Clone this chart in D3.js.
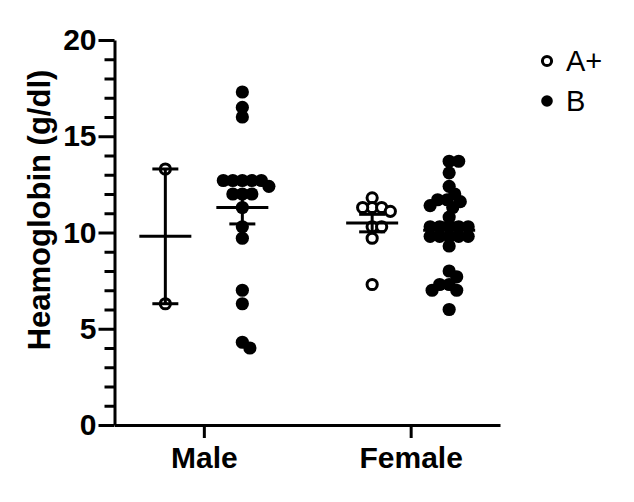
<!DOCTYPE html>
<html>
<head>
<meta charset="utf-8">
<script src="https://cdn.jsdelivr.net/npm/d3@7"></script>
<style>
  html, body { margin: 0; padding: 0; background: #fff; }
  svg { display: block; font-family: "Liberation Sans", Arial, sans-serif; }
</style>
</head>
<body>
<svg id="chart" width="634" height="502"></svg>
<script>
// ---- data ----
const categories = ["Male", "Female"];
const seriesNames = ["A+", "B"];
const maleAplus = [13.3, 6.3];
const maleB = [17.3, 16.5, 16.0, 12.7, 12.7, 12.7, 12.7, 12.7, 12.4, 12.0, 12.0, 12.0, 11.3, 10.3, 9.7, 7.0, 6.3, 4.3, 4.0];
const femaleAplus = [11.8, 11.1, 11.3, 11.3, 11.3, 10.3, 10.3, 9.7, 7.3];
const femaleB = [13.7, 13.7, 13.1, 12.4, 12.0, 11.7, 11.7, 11.6, 11.4, 11.3, 10.8, 10.3, 10.3, 10.3, 10.3, 10.3, 9.8, 9.8, 9.8, 9.8, 9.8, 9.3, 8.0, 7.7, 7.3, 7.3, 7.0, 7.0, 6.0];
const yTicks = [0, 5, 10, 15, 20];
const yMinorTicks = d3.range(0, 21, 1);
const yTitle = "Heamoglobin (g/dl)";

const groups = [
  { category: "Male", series: "A+", values: maleAplus },
  { category: "Male", series: "B", values: maleB },
  { category: "Female", series: "A+", values: femaleAplus },
  { category: "Female", series: "B", values: femaleB }
];

// ---- layout ----
const svg = d3.select("#chart");
const axisX0 = 114.5, axisX1 = 500, axisY0 = 425, axisY1 = 40;
const SW = 3;

const y = d3.scaleLinear().domain([0, 20]).range([axisY0, axisY1]);
const x = d3.scalePoint().domain(categories).range([axisX0, axisX1]).padding(0.432);
const xs = d3.scalePoint().domain(seriesNames).range([-38.5, 38.5]);

const R = 6.6;        // dot radius
const minDist = 9.5;  // allowed spacing (overlap like Prism)

function swarm(values) {
  const order = values.map((v, i) => ({ v, i })).sort((a, b) => b.v - a.v);
  const placed = [];
  order.forEach(p => {
    const py = y(p.v);
    const cands = [0];
    placed.forEach(q => {
      const dy = Math.abs(q.y - py);
      if (dy < minDist) {
        const dx = Math.sqrt(minDist * minDist - dy * dy);
        cands.push(q.x + dx, q.x - dx);
      }
    });
    cands.sort((a, b) => Math.abs(a) - Math.abs(b));
    let chosen = 0;
    for (const c of cands) {
      const ok = placed.every(q => Math.hypot(q.x - c, q.y - py) >= minDist - 1e-6);
      if (ok) { chosen = c; break; }
    }
    placed.push({ x: chosen, y: py, v: p.v });
  });
  return placed;
}

const black = "#000";

// ---- points ----
groups.forEach(g => {
  const cx = x(g.category) + xs(g.series);
  const pts = swarm(g.values);
  const open = g.series === "A+";
  svg.append("g").selectAll("circle").data(pts).join("circle")
    .attr("cx", d => cx + d.x)
    .attr("cy", d => d.y)
    .attr("r", open ? R - 1.5 : R)
    .attr("fill", open ? "#fff" : black)
    .attr("stroke", black)
    .attr("stroke-width", open ? 3 : 0);
});

// ---- mean ± SEM ----
groups.forEach(g => {
  const cx = x(g.category) + xs(g.series);
  const m = d3.mean(g.values);
  const sem = d3.deviation(g.values) / Math.sqrt(g.values.length);
  const eg = svg.append("g").attr("stroke", black).attr("stroke-width", SW).attr("fill", "none");
  eg.append("line").attr("x1", cx).attr("x2", cx).attr("y1", y(m - sem)).attr("y2", y(m + sem));
  eg.append("line").attr("x1", cx - 26).attr("x2", cx + 26).attr("y1", y(m)).attr("y2", y(m));
  [m - sem, m + sem].forEach(v => {
    eg.append("line").attr("x1", cx - 13).attr("x2", cx + 13).attr("y1", y(v)).attr("y2", y(v));
  });
});

// ---- axes ----
const yMinor = svg.append("g").attr("transform", `translate(${axisX0},0)`)
  .call(d3.axisLeft(y).tickValues(yMinorTicks.filter(t => !yTicks.includes(t))).tickSize(10).tickSizeOuter(0).tickFormat(""));
yMinor.select(".domain").remove();
yMinor.selectAll("line").attr("stroke-width", SW);

const yAxis = svg.append("g").attr("transform", `translate(${axisX0},0)`)
  .call(d3.axisLeft(y).tickValues(yTicks).tickSize(16).tickSizeOuter(0).tickPadding(2).tickFormat(d3.format("d")));
yAxis.select(".domain").attr("stroke-width", SW);
yAxis.selectAll("line").attr("stroke-width", SW);
yAxis.selectAll("text").attr("font-size", 30).attr("font-weight", "bold").attr("fill", black)
  .attr("font-family", "Liberation Sans, Arial, sans-serif");

const xAxis = svg.append("g").attr("transform", `translate(0,${axisY0})`)
  .call(d3.axisBottom(x).tickSize(13).tickSizeOuter(0).tickPadding(9));
xAxis.select(".domain").attr("stroke-width", SW);
xAxis.selectAll("line").attr("stroke-width", SW);
xAxis.selectAll("text").attr("font-size", 30).attr("font-weight", "bold").attr("fill", black)
  .attr("font-family", "Liberation Sans, Arial, sans-serif");

// ---- y title ----
svg.append("text")
  .attr("transform", `translate(50,210) rotate(-90)`)
  .attr("text-anchor", "middle")
  .attr("font-size", 31).attr("font-weight", "bold").attr("fill", black)
  .text(yTitle);

// ---- legend ----
const legend = svg.append("g");
seriesNames.forEach((s, i) => {
  const ly = 61 + i * 40;
  const open = s === "A+";
  legend.append("circle").attr("cx", 547).attr("cy", ly)
    .attr("r", open ? 4.6 : 5.8)
    .attr("fill", open ? "#fff" : black)
    .attr("stroke", black).attr("stroke-width", open ? 3 : 0);
  legend.append("text").attr("x", 566).attr("y", ly + 10)
    .attr("font-size", 29).attr("fill", black).text(s);
});
</script>
</body>
</html>
